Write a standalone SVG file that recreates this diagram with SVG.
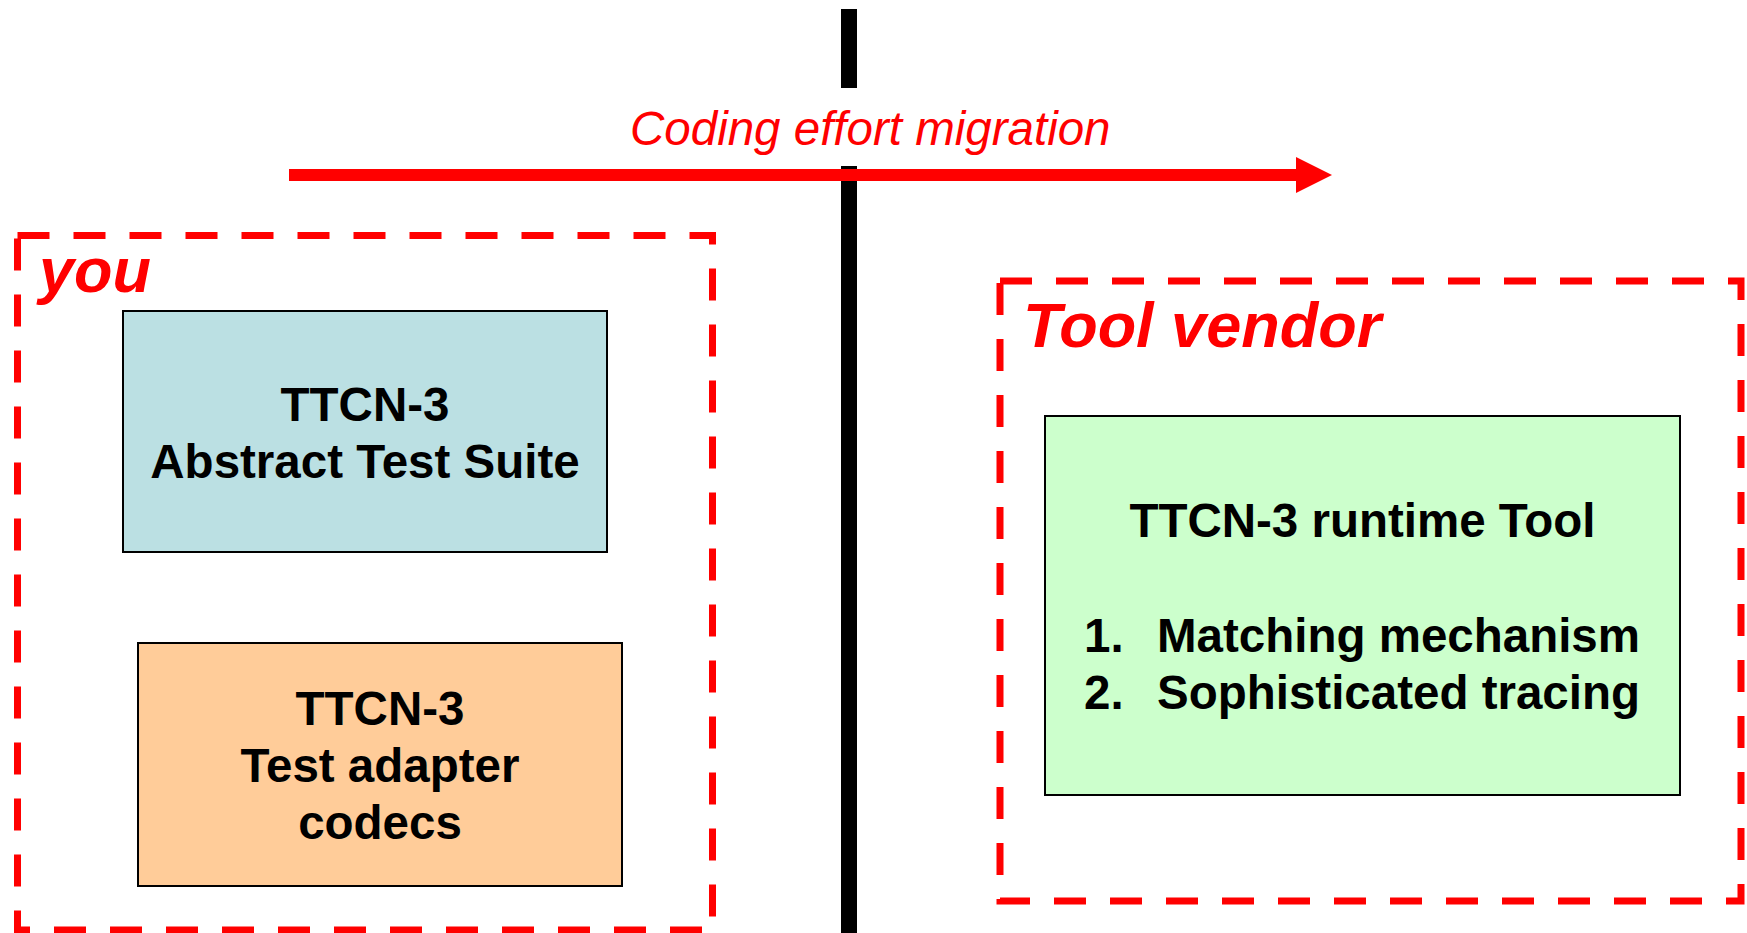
<svg xmlns="http://www.w3.org/2000/svg" width="1747" height="933" viewBox="0 0 1747 933">
<style>
.dash{fill:none;stroke:#FF0000;stroke-width:7;stroke-dasharray:32 24}
.box{stroke:#000000;stroke-width:2}
.bt{font-family:"Liberation Sans",Arial,sans-serif;font-weight:bold;font-size:47.5px;fill:#000000}
.ct{text-anchor:middle}
.rl{font-family:"Liberation Sans",Arial,sans-serif;font-weight:bold;font-style:italic;font-size:63px;fill:#FF0000}
</style>
<rect x="0" y="0" width="1747" height="933" fill="#FFFFFF"/>
<g id="divider">
<rect x="841" y="9" width="16" height="79" fill="#000000"/>
<rect x="841" y="166" width="16" height="767" fill="#000000"/>
</g>
<g id="connectors">
<path d="M289 169 H1296 V157 L1332 175 L1296 193 V181 H289 Z" fill="#FF0000"/>
<text x="630" y="145" font-family="Liberation Sans, Arial, sans-serif" font-style="italic" font-size="47.5" fill="#FF0000">Coding effort migration</text>
</g>
<g id="you">
<rect class="dash" x="17.5" y="235.5" width="695" height="694.5"/>
<text class="rl" x="39" y="292">you</text>
</g>
<g id="abstract-test-suite">
<rect class="box" x="123" y="311" width="484" height="241" fill="#BBE0E3"/>
<text class="bt ct" x="365" y="421">TTCN-3</text>
<text class="bt ct" x="365" y="478">Abstract Test Suite</text>
</g>
<g id="test-adapter">
<rect class="box" x="138" y="643" width="484" height="243" fill="#FFCC99"/>
<text class="bt ct" x="380" y="725">TTCN-3</text>
<text class="bt ct" x="380" y="782">Test adapter</text>
<text class="bt ct" x="380" y="839">codecs</text>
</g>
<g id="tool-vendor">
<rect class="dash" x="1000" y="281" width="741" height="620"/>
<text class="rl" x="1023" y="347">Tool vendor</text>
</g>
<g id="runtime-tool">
<rect class="box" x="1045" y="416" width="635" height="379" fill="#CCFFCC"/>
<text class="bt ct" x="1362.5" y="537">TTCN-3 runtime Tool</text>
<text class="bt" x="1084" y="652">1.</text>
<text class="bt" x="1157" y="652">Matching mechanism</text>
<text class="bt" x="1084" y="709">2.</text>
<text class="bt" x="1157" y="709">Sophisticated tracing</text>
</g>
</svg>
